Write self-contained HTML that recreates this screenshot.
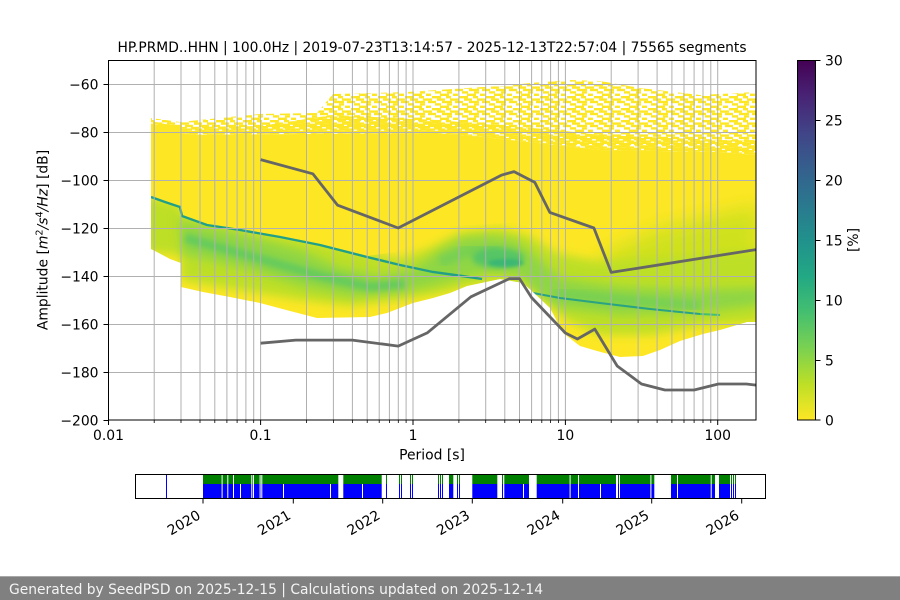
<!DOCTYPE html>
<html><head><meta charset="utf-8"><style>
html,body{margin:0;padding:0;background:#fff;width:900px;height:600px;overflow:hidden}
svg{display:block}
text{font-family:"DejaVu Sans","Liberation Sans",sans-serif;fill:#000}
</style></head><body>
<svg width="900" height="600" viewBox="0 0 900 600" xmlns="http://www.w3.org/2000/svg">
<defs>
 <pattern id="sp" patternUnits="userSpaceOnUse" width="27" height="12">
  <g fill="#fde725">
   <rect x="0" y="0" width="9" height="2.4"/><rect x="14" y="0" width="5" height="2.4"/>
   <rect x="5" y="2.4" width="8" height="2.4"/><rect x="18" y="2.4" width="9" height="2.4"/>
   <rect x="0" y="4.8" width="4" height="2.4"/><rect x="10" y="4.8" width="10" height="2.4"/><rect x="23" y="4.8" width="4" height="2.4"/>
   <rect x="3" y="7.2" width="6" height="2.4"/><rect x="15" y="7.2" width="5" height="2.4"/>
   <rect x="8" y="9.6" width="9" height="2.4"/><rect x="21" y="9.6" width="5" height="2.4"/>
  </g>
 </pattern>
 <pattern id="sp2" patternUnits="userSpaceOnUse" width="27" height="12" patternTransform="translate(13,6)">
  <g fill="#fde725">
   <rect x="0" y="0" width="12" height="2.4"/><rect x="16" y="0" width="8" height="2.4"/>
   <rect x="3" y="2.4" width="14" height="2.4"/><rect x="20" y="2.4" width="7" height="2.4"/>
   <rect x="0" y="4.8" width="9" height="2.4"/><rect x="12" y="4.8" width="12" height="2.4"/>
   <rect x="5" y="7.2" width="16" height="2.4"/>
   <rect x="0" y="9.6" width="7" height="2.4"/><rect x="10" y="9.6" width="14" height="2.4"/>
  </g>
 </pattern>
 <clipPath id="hc"><polygon points="151,125 180,125 180,135 437,133 483,137 557,145 600,150 720,152 756,155 756,322 747,322 720,330 703,334 680,341 660,350 643,356 620,357 597,351 580,346 563,333 550,308 533,292 523,283 500,279 467,286 450,293 433,298 413,303 387,313 370,317 317,318 290,311 260,303 230,297 203,292 181,287 181,263 170,259 157,252 151,249"/></clipPath>
 <clipPath id="bl"><polygon points="140,196 151,196 165,201 180,206 182,215 207,224 240,229 280,236 320,244 367,256 395,252 450,226 520,222 760,190 760,400 140,400"/></clipPath>
 <filter id="b10" x="-30%" y="-30%" width="160%" height="160%"><feGaussianBlur stdDeviation="10"/></filter>
 <filter id="b5" x="-30%" y="-30%" width="160%" height="160%"><feGaussianBlur stdDeviation="5"/></filter>
 <filter id="b3" x="-30%" y="-30%" width="160%" height="160%"><feGaussianBlur stdDeviation="3"/></filter>
 <filter id="b2" x="-30%" y="-30%" width="160%" height="160%"><feGaussianBlur stdDeviation="1.5"/></filter>
 <linearGradient id="cb" x1="0" y1="0" x2="0" y2="1">
  <stop offset="0" stop-color="#440154"/><stop offset="0.1" stop-color="#482475"/>
  <stop offset="0.2" stop-color="#414487"/><stop offset="0.3" stop-color="#355f8d"/>
  <stop offset="0.4" stop-color="#2a788e"/><stop offset="0.5" stop-color="#21918c"/>
  <stop offset="0.6" stop-color="#22a884"/><stop offset="0.7" stop-color="#44bf70"/>
  <stop offset="0.8" stop-color="#7ad151"/><stop offset="0.9" stop-color="#bddf26"/>
  <stop offset="1" stop-color="#fde725"/>
 </linearGradient>
</defs>

<!-- Title -->
<text x="432" y="52" font-size="13.9" text-anchor="middle" textLength="629" lengthAdjust="spacingAndGlyphs">HP.PRMD..HHN | 100.0Hz | 2019-07-23T13:14:57 - 2025-12-13T22:57:04 | 75565 segments</text>

<!-- Heatmap: speckled top -->
<polygon points="151,118 180,122 210,119 260,114 317,113 333,94 407,92 483,87 503,86 530,83 570,80 600,81 640,88 700,95 756,92 756,155 720,152 600,150 557,145 483,137 437,133 180,135 180,125 151,125" fill="url(#sp)"/>
<polygon points="151,121 180,127 260,126 333,115 437,120 483,124 557,130 600,135 720,140 756,140 756,155 720,152 600,150 557,145 483,137 437,133 180,135 180,125 151,125" fill="url(#sp2)"/>

<!-- Heatmap: solid part -->
<g clip-path="url(#hc)">
 <rect x="140" y="120" width="620" height="250" fill="#fde725"/>
 <polygon points="600,255 660,228 760,205 760,305 600,305" fill="#cfe11f" filter="url(#b10)"/>
 <g clip-path="url(#bl)">
 <polygon points="140,194 180,204 182,214 240,227 320,242 400,258 430,248 460,232 500,228 530,236 555,252 600,262 700,255 760,250 760,322 700,326 650,335 600,335 565,320 545,300 525,284 500,281 470,286 440,294 400,300 350,306 300,300 250,292 200,284 181,280 181,255 140,252" fill="#bddf26" filter="url(#b5)"/>
 <polygon points="178,210 182,222 240,234 300,250 340,268 380,276 415,268 440,250 465,238 490,236 515,240 535,255 560,278 620,287 700,290 760,288 760,305 700,313 620,315 560,308 540,296 520,276 490,272 460,278 430,286 400,292 350,296 300,286 250,270 200,258 182,254" fill="#8fd644" filter="url(#b5)"/>
 <path d="M185,238 L250,256 L320,276 L370,287 L405,284" stroke="#5cc863" stroke-width="9" fill="none" opacity="0.8" filter="url(#b3)"/>
 <path d="M440,262 L470,250 L500,250" stroke="#6ccd5a" stroke-width="12" fill="none" opacity="0.6" filter="url(#b3)"/>
 <ellipse cx="498" cy="258" rx="26" ry="10" fill="#4ec36b" opacity="0.85" filter="url(#b3)"/>
 <path d="M555,293 L620,300 L700,306" stroke="#6ccd5a" stroke-width="10" fill="none" opacity="0.6" filter="url(#b3)"/>
 <ellipse cx="506" cy="263" rx="18" ry="4" fill="#2fb17b" opacity="0.7" filter="url(#b2)"/>
 </g>
 <path d="M151,197 L165,202 L180,207 L182,216 L207,225 L240,230 L280,237 L320,245 L367,257 L400,265 L433,272 L462,276 L482,279" stroke="#21a087" stroke-width="2.4" fill="none"/>
 <path d="M533,293 L560,298 L600,303 L650,309 L700,314" stroke="#2aa383" stroke-width="2.1" fill="none"/>
 <path d="M700,314 L720,315" stroke="#44bf70" stroke-width="2" fill="none"/>
</g>

<!-- Grid -->
<g stroke="#b0b0b0" stroke-width="1">
 <line x1="108" y1="84.5" x2="756" y2="84.5"/><line x1="108" y1="132.5" x2="756" y2="132.5"/>
 <line x1="108" y1="180.5" x2="756" y2="180.5"/><line x1="108" y1="228.5" x2="756" y2="228.5"/>
 <line x1="108" y1="276.5" x2="756" y2="276.5"/><line x1="108" y1="324.5" x2="756" y2="324.5"/>
 <line x1="108" y1="372.5" x2="756" y2="372.5"/>
 <line x1="154.2" y1="60" x2="154.2" y2="420"/><line x1="181" y1="60" x2="181" y2="420"/>
 <line x1="200" y1="60" x2="200" y2="420"/><line x1="214.8" y1="60" x2="214.8" y2="420"/>
 <line x1="226.9" y1="60" x2="226.9" y2="420"/><line x1="237.1" y1="60" x2="237.1" y2="420"/>
 <line x1="245.9" y1="60" x2="245.9" y2="420"/><line x1="253.7" y1="60" x2="253.7" y2="420"/>
 <line x1="260.6" y1="60" x2="260.6" y2="420"/>
 <line x1="306.5" y1="60" x2="306.5" y2="420"/><line x1="333.4" y1="60" x2="333.4" y2="420"/>
 <line x1="352.4" y1="60" x2="352.4" y2="420"/><line x1="367.2" y1="60" x2="367.2" y2="420"/>
 <line x1="379.2" y1="60" x2="379.2" y2="420"/><line x1="389.4" y1="60" x2="389.4" y2="420"/>
 <line x1="398.3" y1="60" x2="398.3" y2="420"/><line x1="406.1" y1="60" x2="406.1" y2="420"/>
 <line x1="413" y1="60" x2="413" y2="420"/>
 <line x1="458.9" y1="60" x2="458.9" y2="420"/><line x1="485.7" y1="60" x2="485.7" y2="420"/>
 <line x1="504.8" y1="60" x2="504.8" y2="420"/><line x1="519.5" y1="60" x2="519.5" y2="420"/>
 <line x1="531.6" y1="60" x2="531.6" y2="420"/><line x1="541.8" y1="60" x2="541.8" y2="420"/>
 <line x1="550.6" y1="60" x2="550.6" y2="420"/><line x1="558.4" y1="60" x2="558.4" y2="420"/>
 <line x1="565.4" y1="60" x2="565.4" y2="420"/>
 <line x1="611.2" y1="60" x2="611.2" y2="420"/><line x1="638.1" y1="60" x2="638.1" y2="420"/>
 <line x1="657.1" y1="60" x2="657.1" y2="420"/><line x1="671.9" y1="60" x2="671.9" y2="420"/>
 <line x1="684" y1="60" x2="684" y2="420"/><line x1="694.1" y1="60" x2="694.1" y2="420"/>
 <line x1="703" y1="60" x2="703" y2="420"/><line x1="710.8" y1="60" x2="710.8" y2="420"/>
 <line x1="717.7" y1="60" x2="717.7" y2="420"/>
</g>

<!-- Noise models -->
<g stroke="#666666" stroke-width="2.8" fill="none" stroke-linejoin="round">
 <polyline points="260.6,159.6 312.8,173.8 337.6,205.2 398.2,228 501.3,175.2 514,171.6 534.8,182.4 549.8,212.4 593.9,228 611.2,272.4 756,249.6"/>
 <polyline points="260.6,343.2 295.8,340.1 352.4,340.1 398.2,346.1 427.2,332.9 470.9,296.8 509.5,278.6 519.5,278.6 531.6,297.6 565.4,333 577.4,339 594.8,329.1 617.2,366 641.5,384 664.9,390 694.1,390 718.4,384 746.3,384 756,385.1"/>
</g>

<!-- Axes frame -->
<rect x="108.5" y="60.5" width="647.5" height="359.5" fill="none" stroke="#000" stroke-width="1"/>

<!-- Ticks -->
<g stroke="#000" stroke-width="1">
 <line x1="103.5" y1="84.5" x2="108.5" y2="84.5"/><line x1="103.5" y1="132.5" x2="108.5" y2="132.5"/>
 <line x1="103.5" y1="180.5" x2="108.5" y2="180.5"/><line x1="103.5" y1="228.5" x2="108.5" y2="228.5"/>
 <line x1="103.5" y1="276.5" x2="108.5" y2="276.5"/><line x1="103.5" y1="324.5" x2="108.5" y2="324.5"/>
 <line x1="103.5" y1="372.5" x2="108.5" y2="372.5"/><line x1="103.5" y1="420.5" x2="108.5" y2="420.5"/>
 <line x1="108.5" y1="420" x2="108.5" y2="425"/><line x1="260.6" y1="420" x2="260.6" y2="425"/>
 <line x1="413" y1="420" x2="413" y2="425"/><line x1="565.4" y1="420" x2="565.4" y2="425"/>
 <line x1="717.7" y1="420" x2="717.7" y2="425"/>
</g>
<g stroke="#000" stroke-width="0.8">
 <line x1="154.2" y1="420" x2="154.2" y2="423"/><line x1="181" y1="420" x2="181" y2="423"/><line x1="200" y1="420" x2="200" y2="423"/><line x1="214.8" y1="420" x2="214.8" y2="423"/><line x1="226.9" y1="420" x2="226.9" y2="423"/><line x1="237.1" y1="420" x2="237.1" y2="423"/><line x1="245.9" y1="420" x2="245.9" y2="423"/><line x1="253.7" y1="420" x2="253.7" y2="423"/>
 <line x1="306.5" y1="420" x2="306.5" y2="423"/><line x1="333.4" y1="420" x2="333.4" y2="423"/><line x1="352.4" y1="420" x2="352.4" y2="423"/><line x1="367.2" y1="420" x2="367.2" y2="423"/><line x1="379.2" y1="420" x2="379.2" y2="423"/><line x1="389.4" y1="420" x2="389.4" y2="423"/><line x1="398.3" y1="420" x2="398.3" y2="423"/><line x1="406.1" y1="420" x2="406.1" y2="423"/>
 <line x1="458.9" y1="420" x2="458.9" y2="423"/><line x1="485.7" y1="420" x2="485.7" y2="423"/><line x1="504.8" y1="420" x2="504.8" y2="423"/><line x1="519.5" y1="420" x2="519.5" y2="423"/><line x1="531.6" y1="420" x2="531.6" y2="423"/><line x1="541.8" y1="420" x2="541.8" y2="423"/><line x1="550.6" y1="420" x2="550.6" y2="423"/><line x1="558.4" y1="420" x2="558.4" y2="423"/>
 <line x1="611.2" y1="420" x2="611.2" y2="423"/><line x1="638.1" y1="420" x2="638.1" y2="423"/><line x1="657.1" y1="420" x2="657.1" y2="423"/><line x1="671.9" y1="420" x2="671.9" y2="423"/><line x1="684" y1="420" x2="684" y2="423"/><line x1="694.1" y1="420" x2="694.1" y2="423"/><line x1="703" y1="420" x2="703" y2="423"/><line x1="710.8" y1="420" x2="710.8" y2="423"/>
</g>

<!-- Tick labels -->
<g font-size="13.9" text-anchor="end">
 <text x="98.5" y="89.5">−60</text><text x="98.5" y="137.5">−80</text>
 <text x="98.5" y="185.5">−100</text><text x="98.5" y="233.5">−120</text>
 <text x="98.5" y="281.5">−140</text><text x="98.5" y="329.5">−160</text>
 <text x="98.5" y="377.5">−180</text><text x="98.5" y="425.5">−200</text>
</g>
<g font-size="13.9" text-anchor="middle">
 <text x="108.5" y="440">0.01</text><text x="260.6" y="440">0.1</text>
 <text x="413" y="440">1</text><text x="565.4" y="440">10</text><text x="717.7" y="440">100</text>
 <text x="432" y="459.5">Period [s]</text>
</g>
<text transform="translate(47.5,240) rotate(-90)" font-size="13.9" text-anchor="middle">Amplitude [<tspan font-style="italic">m</tspan><tspan font-size="9.7" dy="-5">2</tspan><tspan font-style="italic" dy="5">/s</tspan><tspan font-size="9.7" dy="-5">4</tspan><tspan font-style="italic" dy="5">/Hz</tspan>] [dB]</text>

<!-- Colorbar -->
<rect x="797.5" y="60.5" width="18" height="359.5" fill="url(#cb)" stroke="#000" stroke-width="1"/>
<g stroke="#000" stroke-width="1">
 <line x1="815.5" y1="60.5" x2="820.5" y2="60.5"/><line x1="815.5" y1="120.5" x2="820.5" y2="120.5"/>
 <line x1="815.5" y1="180.5" x2="820.5" y2="180.5"/><line x1="815.5" y1="240.5" x2="820.5" y2="240.5"/>
 <line x1="815.5" y1="300.5" x2="820.5" y2="300.5"/><line x1="815.5" y1="360.5" x2="820.5" y2="360.5"/>
 <line x1="815.5" y1="420" x2="820.5" y2="420"/>
</g>
<g font-size="13.9">
 <text x="825" y="65.5">30</text><text x="825" y="125.5">25</text><text x="825" y="185.5">20</text>
 <text x="825" y="245.5">15</text><text x="825" y="305.5">10</text><text x="825" y="365.5">5</text>
 <text x="825" y="425.5">0</text>
</g>
<text transform="translate(858,240) rotate(-90)" font-size="13.9" text-anchor="middle">[%]</text>

<!-- Timeline -->
<g>
 <rect x="166" y="475" width="1" height="23" fill="#0000ff"/>
 <g fill="#008000">
  <rect x="203" y="475" width="135.3" height="9"/><rect x="343.3" y="475" width="38.4" height="9"/>
  <rect x="449" y="475" width="4.3" height="9"/><rect x="472.3" y="475" width="25" height="9"/>
  <rect x="504.3" y="475" width="24.7" height="9"/><rect x="536.7" y="475" width="79.3" height="9"/>
  <rect x="620" y="475" width="34.3" height="9"/><rect x="671" y="475" width="44" height="9"/>
  <rect x="719" y="475" width="11" height="9"/>
  <rect x="386" y="475" width="1" height="9"/><rect x="399" y="475" width="1" height="9"/><rect x="401" y="475" width="1" height="9"/>
  <rect x="410" y="475" width="1" height="9"/><rect x="412" y="475" width="1" height="9"/><rect x="438" y="475" width="1" height="9"/>
  <rect x="440" y="475" width="1" height="9"/><rect x="442" y="475" width="1" height="9"/><rect x="457" y="475" width="1" height="9"/>
  <rect x="459" y="475" width="1" height="9"/><rect x="502" y="475" width="1" height="9"/><rect x="618" y="475" width="1" height="9"/>
  <rect x="731" y="475" width="1" height="9"/><rect x="733" y="475" width="1" height="9"/><rect x="735" y="475" width="1" height="9"/>
 </g>
 <g fill="#0000ff">
  <rect x="203" y="484" width="135.3" height="14"/><rect x="343.3" y="484" width="38.4" height="14"/>
  <rect x="449" y="484" width="4.3" height="14"/><rect x="472.3" y="484" width="25" height="14"/>
  <rect x="504.3" y="484" width="24.7" height="14"/><rect x="536.7" y="484" width="79.3" height="14"/>
  <rect x="620" y="484" width="34.3" height="14"/><rect x="671" y="484" width="44" height="14"/>
  <rect x="719" y="484" width="11" height="14"/>
  <rect x="386" y="484" width="1" height="14"/><rect x="399" y="484" width="1" height="14"/><rect x="401" y="484" width="1" height="14"/>
  <rect x="410" y="484" width="1" height="14"/><rect x="412" y="484" width="1" height="14"/><rect x="438" y="484" width="1" height="14"/>
  <rect x="440" y="484" width="1" height="14"/><rect x="442" y="484" width="1" height="14"/><rect x="457" y="484" width="1" height="14"/>
  <rect x="459" y="484" width="1" height="14"/><rect x="502" y="484" width="1" height="14"/><rect x="618" y="484" width="1" height="14"/>
  <rect x="731" y="484" width="1" height="14"/><rect x="733" y="484" width="1" height="14"/><rect x="735" y="484" width="1" height="14"/>
 </g>
 <g fill="#ffffff">
  <rect x="221.6" y="475" width="1" height="23"/><rect x="227.3" y="475" width="1" height="23"/><rect x="233" y="475" width="1" height="23"/>
  <rect x="251.3" y="475" width="1" height="23"/><rect x="253" y="475" width="1" height="23"/><rect x="259.6" y="475" width="1" height="23"/>
  <rect x="261.3" y="475" width="1" height="23"/><rect x="569.6" y="475" width="1" height="23"/><rect x="578" y="475" width="1" height="23"/>
  <rect x="650.4" y="475" width="1" height="23"/><rect x="677" y="475" width="1" height="23"/><rect x="710.7" y="475" width="1" height="23"/>
  <rect x="240" y="484" width="1" height="14"/><rect x="283" y="484" width="1" height="14"/><rect x="330" y="484" width="1" height="14"/>
  <rect x="362" y="484" width="1" height="14"/><rect x="523" y="484" width="1" height="14"/><rect x="600" y="484" width="1" height="14"/>
 </g>
 <rect x="135.5" y="474.5" width="630" height="24" fill="none" stroke="#000" stroke-width="1"/>
 <g stroke="#000" stroke-width="1">
  <line x1="203" y1="498.5" x2="203" y2="503.5"/><line x1="293.3" y1="498.5" x2="293.3" y2="503.5"/>
  <line x1="382.7" y1="498.5" x2="382.7" y2="503.5"/><line x1="472.3" y1="498.5" x2="472.3" y2="503.5"/>
  <line x1="562.7" y1="498.5" x2="562.7" y2="503.5"/><line x1="651.7" y1="498.5" x2="651.7" y2="503.5"/>
  <line x1="741.7" y1="498.5" x2="741.7" y2="503.5"/>
 </g>
 <g font-size="13.9" text-anchor="end">
  <text transform="translate(201.5,518) rotate(-30)">2020</text>
  <text transform="translate(291.8,518) rotate(-30)">2021</text>
  <text transform="translate(381.2,518) rotate(-30)">2022</text>
  <text transform="translate(470.8,518) rotate(-30)">2023</text>
  <text transform="translate(561.2,518) rotate(-30)">2024</text>
  <text transform="translate(650.2,518) rotate(-30)">2025</text>
  <text transform="translate(740.2,518) rotate(-30)">2026</text>
 </g>
</g>

<!-- Footer -->
<rect x="0" y="576" width="900" height="24" fill="#808080"/>
<rect x="0" y="576" width="900" height="1" fill="#a8a8a8"/>
<text x="9" y="594" font-size="14" style="fill:#f4f4f4" textLength="534" lengthAdjust="spacingAndGlyphs">Generated by SeedPSD on 2025-12-15 | Calculations updated on 2025-12-14</text>
</svg>
</body></html>
